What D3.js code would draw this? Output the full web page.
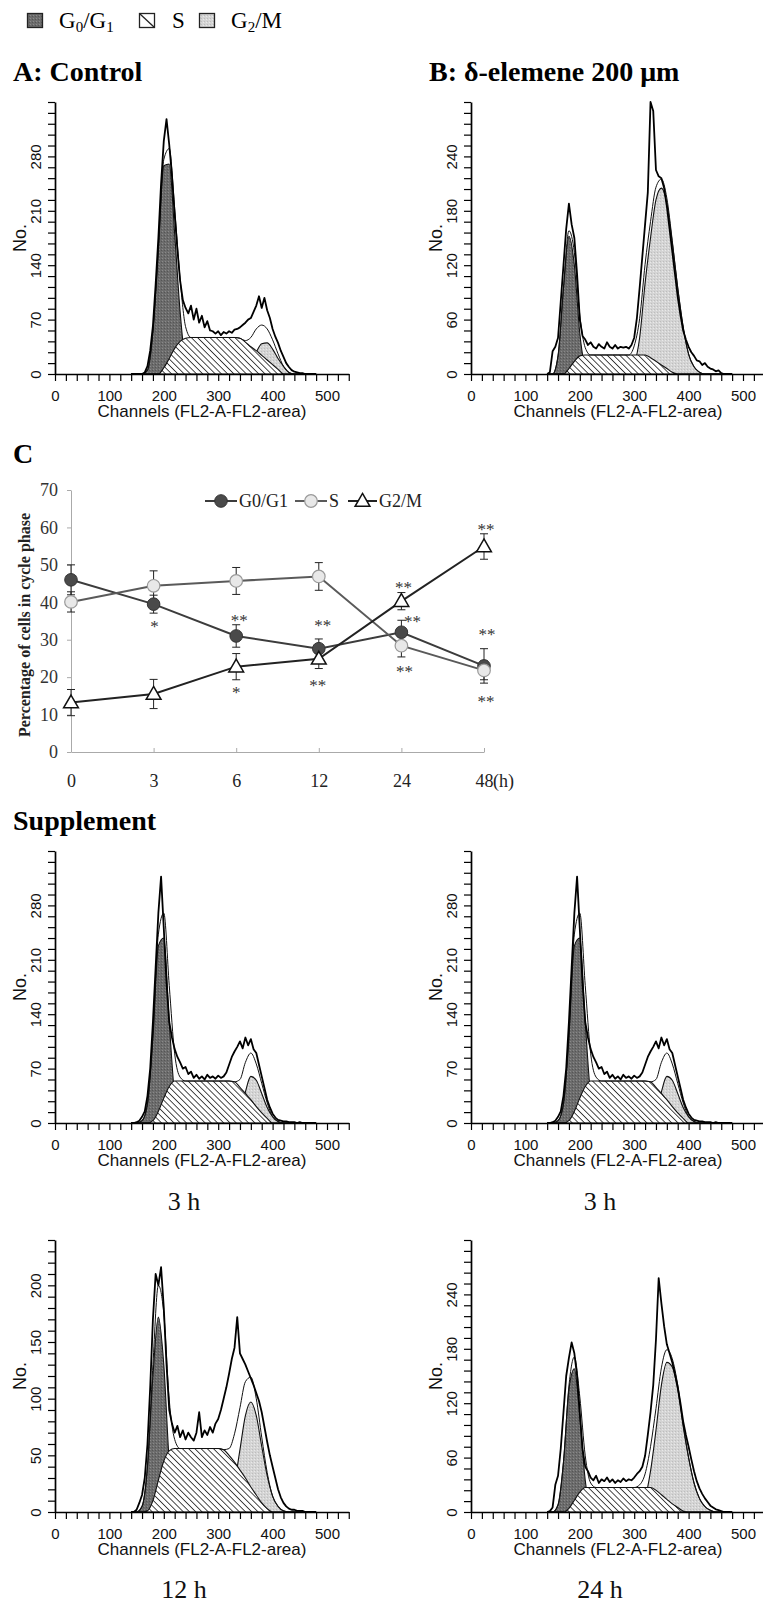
<!DOCTYPE html>
<html><head><meta charset="utf-8">
<script src="https://cdn.jsdelivr.net/npm/d3@7"></script>
<style>
body{margin:0;background:#fff}
svg{display:block}
.serif{font-family:"Liberation Serif","Times New Roman",serif}
.sans{font-family:"Liberation Sans",Arial,sans-serif}
</style>
</head><body>
<svg id="fig" width="763" height="1607"></svg>
<script>
// ---------------- DATA ----------------
// Histogram channel grids
const compCh = [140,150,160,170,180,190,200,210,220,230,240,250,260,270,280,290,300,310,320,330,340,350,360,370,380,390,400,410,420,430,440,450,460,470,480];
const rawCh = [140,145,150,155,160,165,170,175,180,185,190,195,200,205,210,215,220,225,230,235,240,245,250,255,260,265,270,275,280,285,290,295,300,305,310,315,320,325,330,335,340,345,350,355,360,365,370,375,380,385,390,395,400,405,410,415,420,425,430,435,440,445,450,455,460,465,470,475,480];
const xTickLabels = [0,100,200,300,400,500];

// A: Control
const ctrlG1 = [0,0,0,5,55,160,268,270,180,80,15,0,0,0,0,0,0,0,0,0,0,0,0,0,0,0,0,0,0,0,0,0,0,0,0];
const ctrlS  = [0,0,0,0,0,0,8,20,33,42,46,47,47,47,47,47,47,47,47,47,46,41,35,30,24,18,12,6,0,0,0,0,0,0,0];
const ctrlG2 = [0,0,0,0,0,0,0,0,0,0,0,0,0,0,0,0,0,0,0,0,0,2,12,28,39,40,32,20,10,2,0,0,0,0,0];
const ctrlRaw = [0,0,0,0,0,2,10,30,62,115,
  175,245,300,328,295,255,205,160,120,95,
  85,78,88,70,84,66,75,60,68,56,
  55,52,55,50,54,52,55,53,57,58,
  60,63,66,70,72,80,88,100,85,98,
  82,72,58,48,40,30,22,14,9,5,
  3,2,1,1,0,0,0,0,0];
const ctrlYLabels = [0,70,140,210,280];

// B: delta-elemene 200 um
const elemG1 = [0,0,20,95,152,120,45,8,0,0,0,0,0,0,0,0,0,0,0,0,0,0,0,0,0,0,0,0,0,0,0,0,0,0,0];
const elemS  = [0,0,0,0,6,14,20,21,21,21,21,21,21,21,21,21,21,21,21,18,14,10,6,2,0,0,0,0,0,0,0,0,0,0,0];
const elemG2 = [0,0,0,0,0,0,0,0,0,0,0,0,0,0,0,0,10,40,100,150,192,205,188,145,95,52,22,8,2,0,0,0,0,0,0];
const elemRaw = [0,2,25,30,40,80,120,160,188,165,
  150,110,60,42,38,32,35,30,28,33,
  30,28,35,30,28,32,28,30,29,30,
  28,32,40,62,95,130,165,200,300,290,
  225,218,216,205,185,160,135,110,85,65,
  48,38,30,24,20,15,14,10,12,8,
  6,5,3,4,1,0,0,0,0];
const elemYLabels = [0,60,120,180,240];

// Supplement 3 h
const h3G1 = [0,0,3,25,110,228,238,130,35,5,0,0,0,0,0,0,0,0,0,0,0,0,0,0,0,0,0,0,0,0,0,0,0,0,0];
const h3S  = [0,0,0,0,3,15,32,47,54,54,54,54,54,54,54,54,54,54,54,53,46,38,30,21,13,6,0,0,0,0,0,0,0,0,0];
const h3G2 = [0,0,0,0,0,0,0,0,0,0,0,0,0,0,0,0,0,0,0,0,10,40,60,55,38,20,8,2,0,0,0,0,0,0,0];
const h3Raw = [0,0,1,3,8,15,35,70,130,200,
  270,317,250,180,130,110,95,85,78,70,
  72,63,66,58,62,57,60,56,62,58,
  60,57,61,58,60,65,75,85,92,98,
  105,96,110,100,108,95,90,75,60,45,
  30,20,12,7,4,3,2,2,1,1,
  1,0,1,0,0,0,0,0,0];
const h3YLabels = [0,70,140,210,280];

// Supplement 12 h
const h12G1 = [0,0,5,40,120,172,130,45,8,0,0,0,0,0,0,0,0,0,0,0,0,0,0,0,0,0,0,0,0,0,0,0,0,0,0];
const h12S  = [0,0,0,1,10,28,45,54,56,56,56,56,56,56,56,56,56,55,50,44,37,30,22,15,8,3,0,0,0,0,0,0,0,0,0];
const h12G2 = [0,0,0,0,0,0,0,0,0,0,0,0,0,0,0,0,0,0,6,25,55,85,97,85,58,32,14,5,1,0,0,0,0,0,0];
const h12Raw = [0,0,2,8,15,30,60,110,170,210,
  200,216,180,130,90,78,70,76,66,72,
  64,70,66,63,70,88,66,72,68,75,
  70,78,82,90,100,110,122,135,145,172,
  140,135,130,124,118,112,105,98,88,75,
  62,50,40,30,20,13,8,5,3,2,
  2,1,1,1,0,0,0,0,0];
const h12YLabels = [0,50,100,150,200];

// Supplement 24 h
const h24G1 = [0,0,8,55,135,158,105,35,5,0,0,0,0,0,0,0,0,0,0,0,0,0,0,0,0,0,0,0,0,0,0,0,0,0,0];
const h24S  = [0,0,0,0,4,13,22,27,27,27,27,27,27,27,27,27,27,27,27,27,24,19,14,9,5,1,0,0,0,0,0,0,0,0,0];
const h24G2 = [0,0,0,0,0,0,0,0,0,0,0,0,0,0,0,0,0,3,15,45,90,140,165,160,135,95,60,32,15,6,2,0,0,0,0];
const h24Raw = [0,1,5,30,40,70,110,150,170,187,
  175,150,110,70,50,45,38,35,40,32,
  36,34,38,33,36,32,35,33,37,34,
  36,35,38,42,45,50,62,85,110,140,
  190,258,230,205,185,175,165,152,138,120,
  100,85,72,58,45,34,26,20,15,11,
  7,5,3,2,1,0,0,0,0];
const h24YLabels = [0,60,120,180,240];

// Panel C: percentage of cells in each phase
const cCats = ["0","3","6","12","24","48"];
const cYLabels = [0,10,20,30,40,50,60,70];
const g1Vals = [46.0,39.5,31.0,27.6,32.0,23.0];
const g1Err  = [4.0,2.4,3.0,2.6,3.2,4.6];
const sVals  = [40.1,44.4,45.7,46.9,28.4,21.8];
const sErr   = [2.7,4.0,3.6,3.7,3.0,2.5];
const g2Vals = [13.2,15.5,22.8,24.9,40.3,54.9];
const g2Err  = [3.5,3.9,3.5,2.6,2.3,3.4];
const starCat  = ["3","6","6","12","12","24","24","24","48","48","48"];
const starVal  = [34.4,36.0,16.8,34.7,18.7,45.0,35.7,22.4,60.3,32.3,14.4];
const starText = ["*","**","*","**","**","**","**","**","**","**","**"];
const starShift = [1,3,0,4,-1,2,11,3,2,3,2];

// ---------------- DRAWING ----------------
const svg = d3.select("#fig");
const defs = svg.append("defs");
const hatch = defs.append("pattern").attr("id","hatch").attr("patternUnits","userSpaceOnUse")
  .attr("width",4.4).attr("height",4.4).attr("patternTransform","rotate(-45)");
hatch.append("rect").attr("width",4.4).attr("height",4.4).attr("fill","#fff");
hatch.append("line").attr("x1",2.2).attr("x2",2.2).attr("y1",0).attr("y2",4.4).attr("stroke","#333").attr("stroke-width",0.9);
const dk = defs.append("pattern").attr("id","dark").attr("patternUnits","userSpaceOnUse").attr("width",3).attr("height",3);
dk.append("rect").attr("width",3).attr("height",3).attr("fill","#6c6c6c");
dk.append("rect").attr("x",0).attr("y",0).attr("width",1).attr("height",1).attr("fill","#8a8a8a");
dk.append("rect").attr("x",2).attr("y",1).attr("width",1).attr("height",1).attr("fill","#555");
const lt = defs.append("pattern").attr("id","light").attr("patternUnits","userSpaceOnUse").attr("width",3).attr("height",3);
lt.append("rect").attr("width",3).attr("height",3).attr("fill","#d4d4d4");
lt.append("rect").attr("x",0).attr("y",0).attr("width",1).attr("height",1).attr("fill","#bdbdbd");
lt.append("rect").attr("x",2).attr("y",1).attr("width",1).attr("height",1).attr("fill","#e9e9e9");

// --- top legend ---
function gText(sel, base, sub1, mid, sub2) {
  sel.append("tspan").text(base);
  sel.append("tspan").attr("font-size","15px").attr("dy",4).text(sub1);
  if (mid !== undefined) {
    sel.append("tspan").attr("dy",-4).text(mid);
    sel.append("tspan").attr("font-size","15px").attr("dy",4).text(sub2);
  }
}
const leg = svg.append("g").attr("class","serif").attr("font-size","23px");
leg.append("rect").attr("x",27.5).attr("y",13.5).attr("width",15).attr("height",14).attr("fill","url(#dark)").attr("stroke","#222").attr("stroke-width",1.3);
gText(leg.append("text").attr("x",59).attr("y",28), "G","0","/G","1");
leg.append("rect").attr("x",139.5).attr("y",13.5).attr("width",15).attr("height",14).attr("fill","#fff").attr("stroke","#222").attr("stroke-width",1.3);
leg.append("line").attr("x1",139.5).attr("y1",13.5).attr("x2",154.5).attr("y2",27.5).attr("stroke","#222").attr("stroke-width",1.3);
leg.append("text").attr("x",172).attr("y",28).text("S");
leg.append("rect").attr("x",199.5).attr("y",13.5).attr("width",15).attr("height",14).attr("fill","url(#light)").attr("stroke","#222").attr("stroke-width",1.3);
const g2t = leg.append("text").attr("x",231).attr("y",28);
gText(g2t, "G","2"); g2t.append("tspan").attr("dy",-4).text("/M");

// --- titles ---
function title(x, y, txt) {
  svg.append("text").attr("class","serif").attr("x",x).attr("y",y).attr("font-size","28px").attr("font-weight","bold").text(txt);
}
title(13, 81, "A: Control");
title(429, 81, "B: δ-elemene 200 μm");
title(13, 463, "C");
title(13, 830, "Supplement");

// --- histogram panels ---
const PX_PER_CH = 0.544, HIST_H = 272;
function drawHist(cfg, g1, s, g2, raw, yLabels) {
  const g = svg.append("g");
  const x = d3.scaleLinear().domain([0,540]).range([cfg.x0, cfg.x0 + 540*PX_PER_CH]);
  const y = d3.scaleLinear().domain([0,cfg.yMax]).range([cfg.yBase, cfg.yBase - HIST_H]);
  const area = d3.area().x((d,i)=>x(compCh[i])).y0(y(0)).y1(d=>y(d)).curve(d3.curveMonotoneX);
  g.append("path").datum(g1).attr("d",area).attr("fill","url(#dark)").attr("stroke","#111").attr("stroke-width",1.1);
  g.append("path").datum(g2).attr("d",area).attr("fill","url(#light)").attr("stroke","#111").attr("stroke-width",1.1);
  g.append("path").datum(s).attr("d",area).attr("fill","url(#hatch)").attr("stroke","#111").attr("stroke-width",1.1);
  const fit = g1.map((v,i)=>v + s[i] + g2[i]);
  g.append("path").datum(fit).attr("d", d3.line().x((d,i)=>x(compCh[i])).y(d=>y(d)).curve(d3.curveMonotoneX))
    .attr("fill","none").attr("stroke","#111").attr("stroke-width",1);
  g.append("path").datum(raw).attr("d", d3.line().x((d,i)=>x(rawCh[i])).y(d=>y(d)))
    .attr("fill","none").attr("stroke","#000").attr("stroke-width",1.8).attr("stroke-linejoin","round");
  // axes
  const yTicks = d3.range(0, cfg.yMax + 0.001, cfg.minor);
  const ya = g.append("g").attr("class","sans").attr("transform",`translate(${cfg.x0},0)`)
    .call(d3.axisLeft(y).tickValues(yTicks).tickSize(7).tickSizeOuter(0).tickFormat(d => yLabels.includes(d) ? d : ""));
  ya.selectAll("text").attr("transform","rotate(-90)").attr("x",0).attr("y",-19).attr("dy","0.35em")
    .attr("text-anchor","middle").attr("font-size","15px").attr("fill","#111");
  const xTicks = d3.range(0, 541, 20);
  const xa = g.append("g").attr("class","sans").attr("transform",`translate(0,${cfg.yBase})`)
    .call(d3.axisBottom(x).tickValues(xTicks).tickSize(7).tickSizeOuter(0).tickFormat(d => xTickLabels.includes(d) ? d : ""));
  xa.selectAll("text").attr("y",16).attr("dy","0.71em").attr("font-size","15px").attr("fill","#111");
  [ya, xa].forEach(a => {
    a.select(".domain").attr("stroke","#000").attr("stroke-width",1.7);
    a.selectAll(".tick line").attr("stroke","#000").attr("stroke-width",1.2);
  });
  g.append("text").attr("class","sans").attr("transform",`translate(${cfg.x0-35},${cfg.yBase-HIST_H/2}) rotate(-90)`)
    .attr("text-anchor","middle").attr("dy","0.35em").attr("font-size","18px").attr("fill","#111").text("No.");
  g.append("text").attr("class","sans").attr("x", cfg.x0 + 147).attr("y", cfg.yBase + 43)
    .attr("text-anchor","middle").attr("font-size","17px").attr("fill","#111").text("Channels (FL2-A-FL2-area)");
  if (cfg.caption) {
    g.append("text").attr("class","serif").attr("x", cfg.x0 + 129).attr("y", cfg.yBase + cfg.capDy)
      .attr("text-anchor","middle").attr("font-size","26px").attr("fill","#111").text(cfg.caption);
  }
}
drawHist({x0:55, yBase:374, yMax:350, minor:14}, ctrlG1, ctrlS, ctrlG2, ctrlRaw, ctrlYLabels);
drawHist({x0:471, yBase:374, yMax:300, minor:12}, elemG1, elemS, elemG2, elemRaw, elemYLabels);
drawHist({x0:55, yBase:1123, yMax:350, minor:14, caption:"3 h", capDy:87}, h3G1, h3S, h3G2, h3Raw, h3YLabels);
drawHist({x0:471, yBase:1123, yMax:350, minor:14, caption:"3 h", capDy:87}, h3G1, h3S, h3G2, h3Raw, h3YLabels);
drawHist({x0:55, yBase:1512, yMax:240, minor:10, caption:"12 h", capDy:86}, h12G1, h12S, h12G2, h12Raw, h12YLabels);
drawHist({x0:471, yBase:1512, yMax:300, minor:12, caption:"24 h", capDy:86}, h24G1, h24S, h24G2, h24Raw, h24YLabels);

// --- Panel C ---
const cx = d3.scalePoint().domain(cCats).range([71, 484]);
const cy = d3.scaleLinear().domain([0,70]).range([752, 490]);
const cg = svg.append("g").attr("class","serif");
const cya = cg.append("g").attr("transform","translate(71,0)")
  .call(d3.axisLeft(cy).tickValues(cYLabels).tickSize(4).tickPadding(9).tickSizeOuter(0));
cya.selectAll("text").attr("font-size","18px").attr("fill","#333").attr("font-family","Liberation Serif, serif");
const cxa = cg.append("g").attr("transform","translate(0,752)")
  .call(d3.axisBottom(cx).tickSize(-4).tickSizeOuter(0));
cxa.selectAll("text").attr("y",22).attr("dy","0.71em").attr("font-size","18px").attr("fill","#222").attr("font-family","Liberation Serif, serif");
[cya, cxa].forEach(a => {
  a.select(".domain").attr("stroke","#aaa").attr("stroke-width",1);
  a.selectAll(".tick line").attr("stroke","#aaa");
});
cg.append("text").attr("x", cx("48") + 9).attr("y", 752 + 22).attr("dy","0.71em").attr("font-size","18px").attr("fill","#222").text("(h)");
cg.append("text").attr("transform","translate(24,625) rotate(-90)").attr("text-anchor","middle").attr("dy","0.35em")
  .attr("font-size","16px").attr("font-weight","bold").attr("fill","#222").text("Percentage of cells in cycle phase");

const series = [
  {vals:g1Vals, err:g1Err, line:"#3c3c3c", kind:"dot"},
  {vals:sVals, err:sErr, line:"#5a5a5a", kind:"open"},
  {vals:g2Vals, err:g2Err, line:"#222", kind:"tri"}
];
const cline = d3.line().x((d,i)=>cx(cCats[i])).y(d=>cy(d));
series.forEach(sr => {
  cg.append("path").datum(sr.vals).attr("d",cline).attr("fill","none").attr("stroke",sr.line).attr("stroke-width",2);
});
series.forEach(sr => {
  sr.vals.forEach((v,i) => {
    const xx = cx(cCats[i]), e = sr.err[i];
    cg.append("line").attr("x1",xx).attr("x2",xx).attr("y1",cy(v-e)).attr("y2",cy(v+e)).attr("stroke","#222").attr("stroke-width",1);
    [v-e, v+e].forEach(t => cg.append("line").attr("x1",xx-4).attr("x2",xx+4).attr("y1",cy(t)).attr("y2",cy(t)).attr("stroke","#222").attr("stroke-width",1));
  });
});
const tri = d3.symbol(d3.symbolTriangle).size(95)();
function marker(sel, kind, x, y) {
  if (kind === "dot") sel.append("circle").attr("cx",x).attr("cy",y).attr("r",6.3).attr("fill","#4a4a4a").attr("stroke","#333").attr("stroke-width",1);
  else if (kind === "open") sel.append("circle").attr("cx",x).attr("cy",y).attr("r",6.3).attr("fill","#e8e8e8").attr("stroke","#999").attr("stroke-width",1.2);
  else sel.append("path").attr("d",tri).attr("transform",`translate(${x},${y+1})`).attr("fill","#fff").attr("stroke","#111").attr("stroke-width",1.5);
}
series.forEach(sr => sr.vals.forEach((v,i) => marker(cg, sr.kind, cx(cCats[i]), cy(v))));
starText.forEach((t,i) => {
  cg.append("text").attr("x", cx(starCat[i]) + starShift[i]).attr("y", cy(starVal[i]) + 9)
    .attr("text-anchor","middle").attr("font-size","17px").attr("fill","#333").text(t);
});
// legend C
const lgC = [{k:"dot", x0:205, x1:237, label:"G0/G1"}, {k:"open", x0:295, x1:327, label:"S"}, {k:"tri", x0:348, x1:377, label:"G2/M"}];
lgC.forEach((l,i) => {
  cg.append("line").attr("x1",l.x0).attr("x2",l.x1).attr("y1",501).attr("y2",501).attr("stroke",series[i].line).attr("stroke-width",2);
  marker(cg, l.k, (l.x0+l.x1)/2, 501);
  cg.append("text").attr("x", l.x1 + 2).attr("y", 507).attr("font-size","18px").attr("fill","#222").text(l.label);
});
</script>
</body></html>
